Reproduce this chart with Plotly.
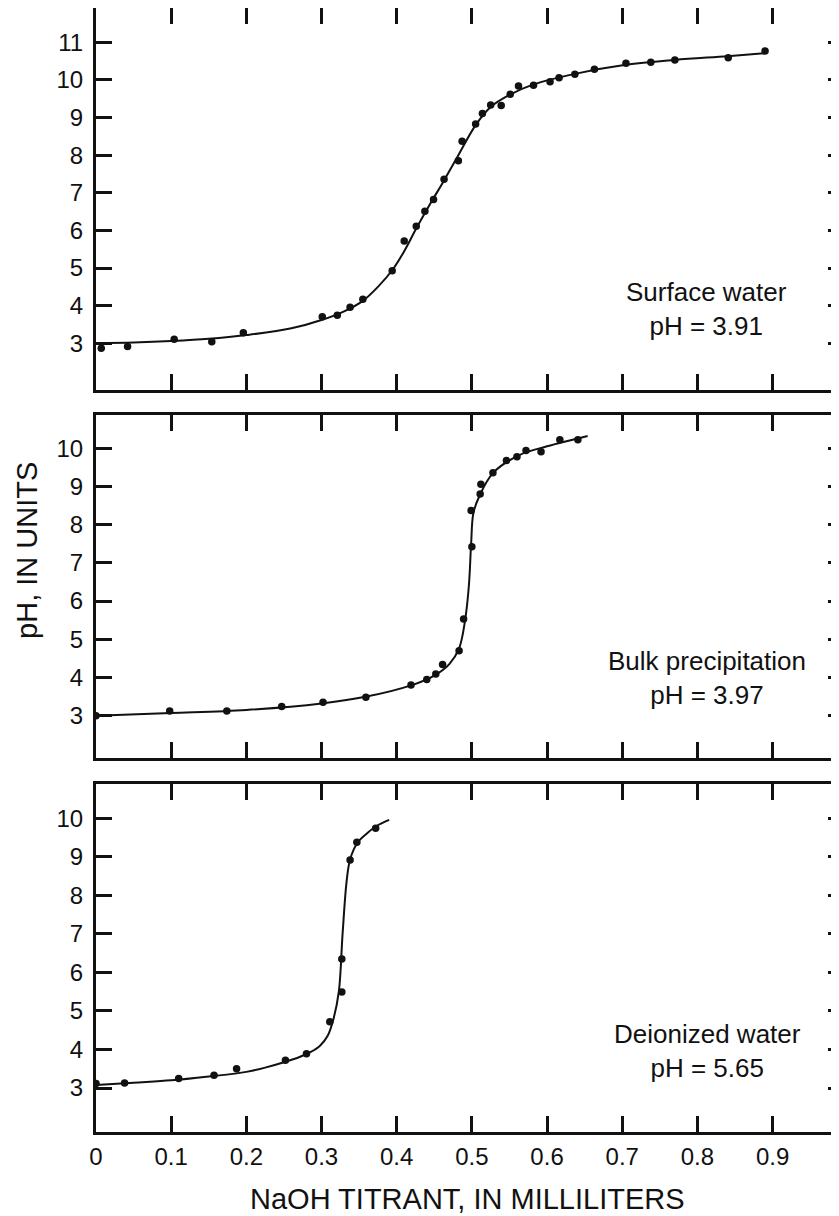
import plotly.graph_objects as go

# ---- data ----
sw_x = [0.007, 0.042, 0.104, 0.154, 0.196, 0.301, 0.321, 0.338, 0.355, 0.394, 0.410, 0.426,
        0.4375, 0.449, 0.463, 0.482, 0.487, 0.505, 0.514, 0.525, 0.539, 0.551, 0.562, 0.582,
        0.604, 0.616, 0.637, 0.663, 0.705, 0.738, 0.770, 0.841, 0.890]
sw_y = [2.87, 2.92, 3.11, 3.04, 3.28, 3.71, 3.75, 3.96, 4.17, 4.93, 5.72, 6.11,
        6.51, 6.82, 7.36, 7.85, 8.37, 8.83, 9.11, 9.33, 9.32, 9.62, 9.84, 9.86,
        9.95, 10.06, 10.15, 10.28, 10.44, 10.47, 10.53, 10.59, 10.77]
sw_cx = [0, 0.05, 0.1, 0.15, 0.2, 0.26, 0.3, 0.33, 0.355, 0.375, 0.395, 0.41, 0.426, 0.445,
         0.463, 0.482, 0.505, 0.525, 0.55, 0.582, 0.637, 0.705, 0.77, 0.84, 0.89]
sw_cy = [3.0, 3.02, 3.06, 3.12, 3.22, 3.4, 3.62, 3.85, 4.13, 4.5, 4.97, 5.45, 6.05, 6.72,
         7.33, 8.0, 8.8, 9.28, 9.6, 9.88, 10.16, 10.4, 10.53, 10.63, 10.71]

bp_x = [0.0, 0.098, 0.174, 0.247, 0.302, 0.359, 0.419, 0.440, 0.452, 0.461, 0.483, 0.489,
        0.499, 0.500, 0.511, 0.512, 0.528, 0.546, 0.560, 0.572, 0.592, 0.617, 0.641]
bp_y = [3.0, 3.12, 3.12, 3.24, 3.35, 3.48, 3.80, 3.95, 4.09, 4.34, 4.70, 5.53,
        8.37, 7.42, 8.80, 9.06, 9.36, 9.68, 9.78, 9.94, 9.91, 10.22, 10.22]
bp_cx = [0, 0.1, 0.2, 0.3, 0.36, 0.42, 0.45, 0.47, 0.483, 0.491, 0.496, 0.499, 0.502, 0.51,
         0.528, 0.563, 0.6, 0.654]
bp_cy = [3.0, 3.07, 3.15, 3.32, 3.5, 3.8, 4.05, 4.35, 4.76, 5.5, 6.4, 7.5, 8.3, 8.75,
         9.35, 9.82, 10.05, 10.32]

dw_x = [0.0, 0.038, 0.110, 0.157, 0.187, 0.252, 0.280, 0.311, 0.327, 0.327, 0.338, 0.347, 0.372]
dw_y = [3.12, 3.13, 3.25, 3.33, 3.50, 3.72, 3.89, 4.72, 5.49, 6.35, 8.92, 9.38, 9.74]
dw_cx = [0, 0.05, 0.1, 0.15, 0.2, 0.225, 0.25, 0.27, 0.285, 0.298, 0.308, 0.316, 0.323, 0.328,
         0.333, 0.337, 0.343, 0.35, 0.36, 0.373, 0.39]
dw_cy = [3.08, 3.14, 3.2, 3.3, 3.42, 3.53, 3.67, 3.8, 3.93, 4.1, 4.35, 4.8, 5.5, 7.0,
         8.3, 8.85, 9.2, 9.42, 9.6, 9.8, 9.96]

labels = ["Surface water<br>pH = 3.91", "Bulk precipitation<br>pH = 3.97",
          "Deionized water<br>pH = 5.65"]
label_x = [0.8125, 0.8125, 0.814]
label_y = [3.91, 3.99, 3.95]

x_ticks = [0, 0.1, 0.2, 0.3, 0.4, 0.5, 0.6, 0.7, 0.8, 0.9]
x_ticktext = ["0", "0.1", "0.2", "0.3", "0.4", "0.5", "0.6", "0.7", "0.8", "0.9"]
y_ticks = [[3, 4, 5, 6, 7, 8, 9, 10, 11], [3, 4, 5, 6, 7, 8, 9, 10], [3, 4, 5, 6, 7, 8, 9, 10]]
y_ranges = [[1.76, 11.91], [1.9, 10.87], [1.86, 10.89]]
domains = [[0.6601, 1.0], [0.333, 0.6379], [0.0, 0.3096]]
x_range = [0, 0.995]

FONT = "Liberation Sans, Arial, Helvetica, sans-serif"
BLACK = "#111111"

panels = [(sw_x, sw_y, sw_cx, sw_cy), (bp_x, bp_y, bp_cx, bp_cy), (dw_x, dw_y, dw_cx, dw_cy)]

fig = go.Figure()
# page body has an 8px margin; the right frame edge falls just outside the window
layout = dict(
    template="none",
    width=839, height=1208,
    margin=dict(l=88, r=3, t=0, b=84, pad=0, autoexpand=False),
    paper_bgcolor="white", plot_bgcolor="white",
    showlegend=False,
    font=dict(family=FONT, color=BLACK),
)

for i, (px, py, cx, cy) in enumerate(panels):
    n = i + 1
    xa = "x" if n == 1 else f"x{n}"
    ya = "y" if n == 1 else f"y{n}"
    fig.add_trace(go.Scatter(x=cx, y=cy, mode="lines",
                             line=dict(color=BLACK, width=2, shape="spline", smoothing=1.0),
                             xaxis=xa, yaxis=ya, hoverinfo="skip"))
    fig.add_trace(go.Scatter(x=px, y=py, mode="markers", marker=dict(color=BLACK, size=7.5),
                             xaxis=xa, yaxis=ya))

    layout[f"xaxis{'' if n == 1 else n}"] = dict(
        domain=[0, 1], anchor=ya, range=x_range, showgrid=False, zeroline=False,
        automargin=False,
        showline=True, linecolor=BLACK, linewidth=3, mirror="ticks",
        ticks="inside", ticklen=16, tickwidth=2.5, tickcolor=BLACK,
        tickmode="array", tickvals=x_ticks, ticktext=x_ticktext,
        showticklabels=(n == 3), tickfont=dict(size=24, family=FONT, color=BLACK),
        ticklabelstandoff=1,
    )
    layout[f"yaxis{'' if n == 1 else n}"] = dict(
        domain=domains[i], anchor=xa, range=y_ranges[i], showgrid=False, zeroline=False,
        automargin=False,
        showline=True, linecolor=BLACK, linewidth=3, mirror="ticks",
        ticks="inside", ticklen=16, tickwidth=2.5, tickcolor=BLACK,
        tickmode="array", tickvals=y_ticks[i], tickfont=dict(size=24, family=FONT, color=BLACK),
        ticklabelstandoff=5,
    )

fig.update_layout(**layout)

for i in range(3):
    n = i + 1
    fig.add_annotation(text=labels[i], x=label_x[i], y=label_y[i],
                       xref="x" if n == 1 else f"x{n}", yref="y" if n == 1 else f"y{n}",
                       showarrow=False, font=dict(size=26, family=FONT, color=BLACK),
                       align="center", xanchor="center", yanchor="middle")

fig.add_annotation(text="NaOH TITRANT, IN MILLILITERS", xref="paper", yref="paper",
                   x=0.496, y=-0.0596, showarrow=False, xanchor="center", yanchor="middle",
                   font=dict(size=29, family=FONT, color=BLACK))
fig.add_annotation(text="pH, IN UNITS", xref="paper", yref="paper", textangle=-90,
                   x=-0.0922, y=0.517, showarrow=False, xanchor="center", yanchor="middle",
                   font=dict(size=29, family=FONT, color=BLACK))

fig.write_html("out.html")
